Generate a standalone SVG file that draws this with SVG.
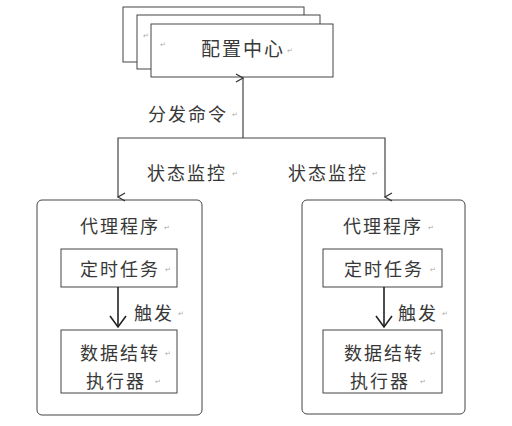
<svg xmlns="http://www.w3.org/2000/svg" width="512" height="426" viewBox="0 0 512 426">
<style>
.box{fill:#fff;stroke:#444;stroke-width:1}
.t{font-family:"Noto Sans CJK SC","Liberation Sans",sans-serif;font-size:18px;letter-spacing:2px;fill:#383838;text-anchor:middle;dominant-baseline:central}
.m{font-family:"DejaVu Sans",sans-serif;font-size:7px;fill:#aaa;dominant-baseline:central}
.ln{fill:none;stroke:#444;stroke-width:1.2}
.hd{fill:none;stroke:#222;stroke-width:1.6}
</style>
<defs>
<marker id="v" markerWidth="10" markerHeight="10" refX="5" refY="8" orient="auto-start-reverse" markerUnits="userSpaceOnUse" viewBox="0 0 10 10">
<path d="M1,1 L5,8 L9,1" fill="none" stroke="#333" stroke-width="1.3"/>
</marker>
</defs>
<rect width="512" height="426" fill="#fff"/>
<g id="config">
<rect class="box" x="123" y="7" width="181" height="55"/>
<rect class="box" x="137" y="15" width="183" height="54"/>
<rect class="box" x="151" y="24" width="182" height="53"/>
<text class="m" x="143" y="36">↵</text>
<text class="m" x="160" y="45">↵</text>
<text class="t" x="243" y="47" style="font-size:19px">配置中心</text>
<text class="m" x="287" y="51">↵</text>
</g>
<g id="agent-left">
<rect class="box" x="37" y="200" width="165" height="215" rx="5"/>
<text class="t" x="120" y="225">代理程序</text>
<text class="m" x="164" y="228">↵</text>
</g>
<g id="timer-left">
<rect class="box" x="61" y="249" width="116" height="38"/>
<text class="t" x="120" y="268">定时任务</text>
<text class="m" x="165" y="270">↵</text>
</g>
<g id="exec-left">
<rect class="box" x="61" y="330" width="116" height="63"/>
<text class="t" x="120" y="352">数据结转</text>
<text class="t" x="116" y="380">执行器</text>
<text class="m" x="165" y="354">↵</text>
<text class="m" x="155" y="382">↵</text>
</g>
<g id="agent-right">
<rect class="box" x="302" y="200" width="163" height="214" rx="5"/>
<text class="t" x="383" y="225">代理程序</text>
<text class="m" x="428" y="228">↵</text>
</g>
<g id="timer-right">
<rect class="box" x="323" y="249" width="119" height="38"/>
<text class="t" x="384" y="268">定时任务</text>
<text class="m" x="430" y="270">↵</text>
</g>
<g id="exec-right">
<rect class="box" x="323" y="330" width="119" height="63"/>
<text class="t" x="384" y="352">数据结转</text>
<text class="t" x="380" y="380">执行器</text>
<text class="m" x="430" y="354">↵</text>
<text class="m" x="420" y="382">↵</text>
</g>
<g id="connectors">
<path class="ln" d="M243,138 V78" marker-end="url(#v)"/>
<path class="ln" d="M118,197 V138 H385 V197" marker-start="url(#v)" marker-end="url(#v)"/>
<text class="t" x="188" y="113">分发命令</text>
<text class="m" x="232" y="115">↵</text>
<text class="t" x="187" y="172">状态监控</text>
<text class="m" x="232" y="174">↵</text>
<text class="t" x="328" y="172">状态监控</text>
<text class="m" x="372" y="174">↵</text>
<path class="hd" d="M118,287 V327"/>
<path class="hd" d="M110,316 L118,327 L126,316"/>
<path class="hd" d="M384,287 V327"/>
<path class="hd" d="M376,316 L384,327 L392,316"/>
<text class="t" x="154" y="312">触发</text>
<text class="m" x="178" y="314">↵</text>
<text class="t" x="418" y="312">触发</text>
<text class="m" x="442" y="314">↵</text>
</g>
</svg>
